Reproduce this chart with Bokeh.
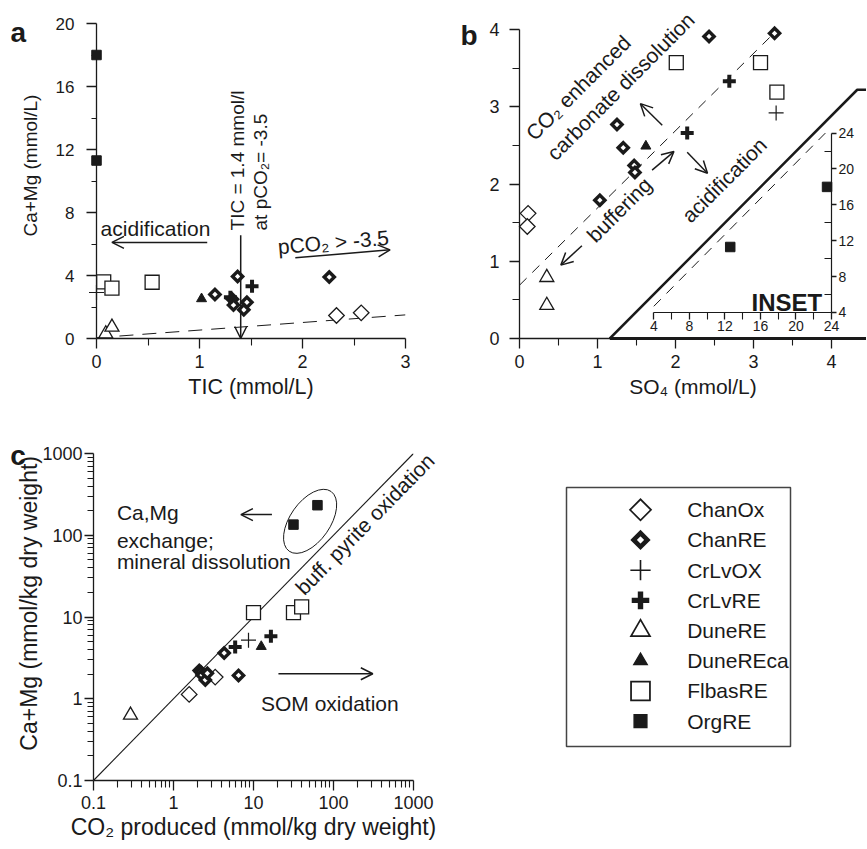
from math import pi
from bokeh.plotting import figure
from bokeh.models import (Range1d, FixedTicker, LinearAxis, Arrow, OpenHead,
                          CustomJSTickFormatter)
from bokeh.core.properties import value
from bokeh.layouts import column, row
from bokeh.embed import file_html
from bokeh.resources import INLINE

FONT = "Liberation Sans"
INK = "#1a1a1a"

series_names = ["ChanOx", "ChanRE", "CrLvOX", "CrLvRE", "DuneRE", "DuneREca", "FlbasRE", "OrgRE"]

# ---------------- panel a : TIC vs Ca+Mg (mmol/L)
a_group = ["ChanOx", "ChanOx",
           "ChanRE", "ChanRE", "ChanRE", "ChanRE", "ChanRE", "ChanRE", "ChanRE",
           "CrLvOX", "CrLvRE", "CrLvRE", "DuneRE", "DuneRE", "DuneREca",
           "FlbasRE", "FlbasRE", "FlbasRE", "OrgRE", "OrgRE"]
a_tic = [2.33, 2.57, 1.37, 2.26, 1.15, 1.32, 1.46, 1.33, 1.43,
         0.00, 1.51, 1.30, 0.09, 0.15, 1.02, 0.07, 0.15, 0.54, 0.00, 0.00]
a_camg = [1.46, 1.63, 3.94, 3.90, 2.80, 2.50, 2.30, 2.12, 1.82,
          2.92, 3.32, 2.62, 0.30, 0.72, 2.52, 3.60, 3.20, 3.57, 18.0, 11.3]
a_eq_tic = [0.0, 3.0]          # dashed equilibrium line (pCO2 = -3.5)
a_eq_camg = [0.05, 1.50]
a_xticks = [0, 1, 2, 3]
a_yticks = [0, 4, 8, 12, 16, 20]

# ---------------- panel b : SO4 vs Ca+Mg (mmol/L)
b_group = ["ChanOx", "ChanOx",
           "ChanRE", "ChanRE", "ChanRE", "ChanRE", "ChanRE", "ChanRE", "ChanRE",
           "CrLvOX", "CrLvRE", "CrLvRE", "DuneRE", "DuneRE", "DuneREca",
           "FlbasRE", "FlbasRE", "FlbasRE"]
b_so4 = [0.11, 0.10, 3.27, 2.43, 1.25, 1.33, 1.47, 1.48, 1.03,
         3.29, 2.69, 2.15, 0.35, 0.35, 1.62, 3.09, 3.30, 2.01]
b_camg = [1.62, 1.45, 3.95, 3.91, 2.77, 2.47, 2.24, 2.15, 1.79,
          2.92, 3.33, 2.66, 0.79, 0.43, 2.49, 3.57, 3.19, 3.57]
b_buffer_offset = 0.69        # buffering line: Ca+Mg = SO4 + offset
b_xticks = [0, 1, 2, 3, 4]
b_yticks = [0, 1, 2, 3, 4]
inset_group = ["OrgRE", "OrgRE"]
inset_so4 = [12.6, 23.5]
inset_camg = [11.3, 18.0]
inset_ticks = [4, 8, 12, 16, 20, 24]

# ---------------- panel c : CO2 produced vs Ca+Mg (mmol/kg dry weight)
c_group = ["ChanOx", "ChanOx",
           "ChanRE", "ChanRE", "ChanRE", "ChanRE", "ChanRE", "ChanRE", "ChanRE",
           "CrLvOX", "CrLvRE", "CrLvRE", "DuneRE", "DuneREca",
           "FlbasRE", "FlbasRE", "FlbasRE", "OrgRE", "OrgRE"]
c_co2 = [1.57, 3.32, 2.10, 2.20, 2.28, 2.50, 2.65, 4.30, 6.50,
         8.66, 5.90, 16.5, 0.29, 12.5, 10.0, 31.6, 40.0, 31.6, 63.0]
c_camg = [1.13, 1.84, 2.22, 2.12, 1.95, 1.70, 2.05, 3.62, 1.93,
          5.20, 4.30, 5.80, 0.63, 4.35, 11.3, 11.3, 13.3, 135.0, 233.0]
c_one_to_one = [0.1, 1000.0]
c_major = [0.1, 1, 10, 100, 1000]

# ---------------- marker styles
STYLE = {
    "ChanOx":   dict(marker="square", angle=pi / 4, size=11.0, lw=1.3, fill="white"),
    "ChanRE":   dict(marker="square", angle=pi / 4, size=7.2, lw=3.4, fill="white"),
    "CrLvOX":   dict(marker="cross", angle=0, size=15.0, lw=1.2, fill=None),
    "CrLvRE":   dict(marker="cross", angle=0, size=13.0, lw=4.0, fill=None),
    "DuneRE":   dict(marker="triangle", angle=0, size=14.0, lw=1.3, fill="white"),
    "DuneREca": dict(marker="triangle", angle=0, size=10.0, lw=1.0, fill=INK),
    "FlbasRE":  dict(marker="square", angle=0, size=14.0, lw=1.3, fill="white"),
    "OrgRE":    dict(marker="square", angle=0, size=9.5, lw=1.0, fill=INK),
}


def draw_points(p, groups, xs, ys, scale=1.0, **kw):
    for name in series_names:
        idx = [i for i, g in enumerate(groups) if g == name]
        if not idx:
            continue
        st = STYLE[name]
        r = p.scatter([xs[i] for i in idx], [ys[i] for i in idx], marker=st["marker"],
                      size=st["size"] * scale, angle=st["angle"], line_color=INK,
                      line_width=st["lw"] * scale, fill_color=st["fill"], line_join="miter", **kw)
        r.level = "overlay"


def make_fig(width, height, left, right, top, bottom, xr, yr, **kw):
    p = figure(width=width, height=height, x_range=xr, y_range=yr, output_backend="svg",
               toolbar_location=None, min_border_left=left, min_border_right=right,
               min_border_top=top, min_border_bottom=bottom, **kw)
    p.frame_align = False
    p.grid.visible = False
    p.outline_line_color = None
    p.background_fill_color = "white"
    p.border_fill_color = "white"
    return p


def style_axis(ax, label_size, title_size, tick_out=10, minor_out=6, standoff=6, title_standoff=5):
    ax.axis_line_color = INK
    ax.axis_line_width = 1.3
    ax.major_tick_line_color = INK
    ax.major_tick_line_width = 1.3
    ax.minor_tick_line_color = INK
    ax.minor_tick_line_width = 1.1
    ax.major_tick_in = 0
    ax.major_tick_out = tick_out
    ax.minor_tick_in = 0
    ax.minor_tick_out = minor_out
    ax.major_label_text_font = FONT
    ax.major_label_text_font_size = f"{label_size}px"
    ax.major_label_text_color = INK
    ax.major_label_standoff = standoff
    ax.axis_label_text_font = FONT
    ax.axis_label_text_font_size = f"{title_size}px"
    ax.axis_label_text_font_style = "normal"
    ax.axis_label_text_color = INK
    ax.axis_label_standoff = title_standoff


def label(p, x, y, text, size=21, angle=0.0, align="left", baseline="alphabetic", bold=False, **kw):
    xs = x if isinstance(x, list) else [x]
    ys = y if isinstance(y, list) else [y]
    ts = text if isinstance(text, list) else [text]
    r = p.text(x=xs, y=ys, text=ts, angle=angle, text_align=align, text_baseline=baseline,
               text_font=value(FONT), text_font_size=value(f"{size}px"), text_color=INK,
               text_font_style="bold" if bold else "normal", **kw)
    r.level = "overlay"


def arrow(p, x0, y0, x1, y1, **kw):
    p.add_layout(Arrow(end=OpenHead(size=12, line_width=1.5, line_color=INK),
                       x_start=x0, y_start=y0, x_end=x1, y_end=y1,
                       line_width=1.5, line_color=INK, level="overlay", **kw))


# ======================= panel a
pa = make_fig(448, 405, 96, 43, 23, 67, Range1d(0, 3), Range1d(0, 20))
pa.xaxis.ticker = FixedTicker(ticks=a_xticks, minor_ticks=[t + 0.5 for t in a_xticks[:-1]])
pa.yaxis.ticker = FixedTicker(ticks=a_yticks, minor_ticks=[t + 2 for t in a_yticks[:-1]])
pa.xaxis.axis_label = "TIC (mmol/L)"
style_axis(pa.xaxis[0], 18, 21.5, tick_out=10, minor_out=7, standoff=6, title_standoff=4)
style_axis(pa.yaxis[0], 17, 19, tick_out=10, minor_out=5, standoff=12, title_standoff=10)
# y title (placed where the original sits, slightly above the axis centre)
label(pa, -0.641, 10.98, "Ca+Mg (mmol/L)", size=19, angle=pi / 2, align="center", baseline="middle")
pa.line(a_eq_tic, a_eq_camg, line_color=INK, line_width=1, line_dash="14 9")
draw_points(pa, a_group, a_tic, a_camg)
label(pa, 0.04, 7.0, "acidification")
arrow(pa, 1.075, 6.1, 0.15, 6.1)
label(pa, 1.37, 6.86, "TIC = 1.4 mmol/l", size=19, angle=pi / 2)
label(pa, 1.595, 6.86, "at pCO\u2082= -3.5", size=19, angle=pi / 2)
arrow(pa, 1.4, 6.55, 1.4, 0.0)
label(pa, 2.30, 6.12, "pCO\u2082 > -3.5", angle=0.085, align="center")
arrow(pa, 1.93, 5.12, 2.85, 5.63)
label(pa, -0.835, 19.45, "a", size=28, bold=True)

# ======================= panel b
B_XMAX = 347 / 78.0
pb = make_fig(418, 405, 71, 0, 29, 67, Range1d(0, B_XMAX), Range1d(0, 4))
main_xb = pb.xaxis[0]
main_yb = pb.yaxis[0]
main_xb.ticker = FixedTicker(ticks=b_xticks, minor_ticks=[t + 0.5 for t in b_xticks[:-1]])
main_yb.ticker = FixedTicker(ticks=b_yticks, minor_ticks=[t + 0.5 for t in b_yticks[:-1]])
main_xb.bounds = (0, 4)
main_xb.axis_label = "SO\u2084 (mmol/L)"
style_axis(main_xb, 18, 21, tick_out=10, minor_out=7, standoff=6, title_standoff=4)
style_axis(main_yb, 18, 21, tick_out=10, minor_out=7, standoff=10, title_standoff=4)

# inset placement (in panel-b units): inset 4..24 spans these b-coordinates
ins_bx = (1.722, 4.0)
ins_by = (0.337, 2.659)


def lin(a0, a1, b0, b1, v):
    return b0 + (v - a0) * (b1 - b0) / (a1 - a0)


pb.extra_x_ranges = {"ix": Range1d(lin(ins_bx[0], ins_bx[1], 4, 24, 0.0),
                                   lin(ins_bx[0], ins_bx[1], 4, 24, B_XMAX))}
pb.extra_y_ranges = {"iy": Range1d(lin(ins_by[0], ins_by[1], 4, 24, 0.0),
                                   lin(ins_by[0], ins_by[1], 4, 24, 4.0))}

bx = [0.0, 4.0 - b_buffer_offset + 0.7]
pb.line(bx, [v + b_buffer_offset for v in bx], line_color=INK, line_width=1, line_dash="10 8")

# inset frame
pb.patch([1.158, 4.33, 4.7, 4.7], [0, 3.22, 3.22, 0], fill_color="white",
         line_color=INK, line_width=2.5)
rb = pb.line([1.158, 4.7], [0, 0], line_color=INK, line_width=2.8)
rb.level = "overlay"

ax_ix = LinearAxis(x_range_name="ix", y_range_name="iy", fixed_location=4, bounds=(4, 24),
                   ticker=FixedTicker(ticks=inset_ticks, minor_ticks=[t + 2 for t in inset_ticks[:-1]]))
ax_iy = LinearAxis(x_range_name="ix", y_range_name="iy", fixed_location=24, bounds=(4, 24),
                   ticker=FixedTicker(ticks=inset_ticks, minor_ticks=[t + 2 for t in inset_ticks[:-1]]))
for ax in (ax_ix, ax_iy):
    style_axis(ax, 14, 14, tick_out=7, minor_out=7, standoff=2, title_standoff=0)
    ax.axis_line_width = 1.2
ax_iy.minor_tick_out = 0
ax_iy.minor_tick_in = 7
ax_iy.major_tick_out = 5
pb.add_layout(ax_ix, "below")
pb.add_layout(ax_iy, "right")

ix_line = [4.0, 24.0 - b_buffer_offset]
pb.line(ix_line, [v + b_buffer_offset for v in ix_line], x_range_name="ix", y_range_name="iy",
        line_color=INK, line_width=1, line_dash="10 8")
draw_points(pb, inset_group, inset_so4, inset_camg, x_range_name="ix", y_range_name="iy")
draw_points(pb, b_group, b_so4, b_camg)

label(pb, 0.128, 2.617, "CO\u2082 enhanced", angle=pi / 4)
label(pb, 0.397, 2.357, "carbonate dissolution", angle=pi / 4)
label(pb, 0.91, 1.295, "buffering", angle=pi / 4)
label(pb, 2.128, 1.55, "acidification", angle=pi / 4)
arrow(pb, 1.83, 2.76, 1.55, 3.04)
arrow(pb, 1.70, 2.18, 1.98, 2.42)
arrow(pb, 2.15, 2.41, 2.41, 2.14)
arrow(pb, 0.80, 1.20, 0.53, 0.95)
label(pb, 3.88, 0.47, "INSET", size=24, align="right", bold=True)
label(pb, -0.756, 3.92, "b", size=28, bold=True)

# ======================= panel c
pc = make_fig(450, 443, 93, 37, 48, 68, Range1d(0.1, 1000), Range1d(0.1, 1000),
              x_axis_type="log", y_axis_type="log")
c_minor = [m * t for t in c_major[:-1] for m in range(2, 10)]
for ax in (pc.xaxis[0], pc.yaxis[0]):
    ax.ticker = FixedTicker(ticks=c_major, minor_ticks=c_minor)
    ax.formatter = CustomJSTickFormatter(code="return tick.toString();")
pc.xaxis.axis_label = "CO\u2082 produced (mmol/kg dry weight)"
style_axis(pc.xaxis[0], 18, 23, tick_out=10, minor_out=7, standoff=5, title_standoff=2)
style_axis(pc.yaxis[0], 18, 23, tick_out=9, minor_out=6, standoff=2, title_standoff=2)
label(pc, 0.0154, 14.7, "Ca+Mg (mmol/kg dry weight)", size=23, angle=pi / 2, align="center",
      baseline="middle")
pc.line(c_one_to_one, c_one_to_one, line_color=INK, line_width=1.1)
pc.ellipse(x=[51], y=[148], width=73, height=40, angle=0.96, width_units="screen",
           height_units="screen", fill_color=None, line_color=INK, line_width=1)
draw_points(pc, c_group, c_co2, c_camg)
label(pc, 0.196, 187.5, "Ca,Mg")
label(pc, 0.196, 86.9, "exchange;")
label(pc, 0.196, 47.1, "mineral dissolution")
arrow(pc, 17.0, 179, 6.96, 179)
label(pc, 12.4, 0.869, "SOM oxidation")
arrow(pc, 20.5, 2.02, 310, 2.02)
label(pc, 37.3, 20.8, "buff. pyrite oxidation", angle=0.796)
label(pc, 0.0091, 946, "c", size=28, bold=True)

# ======================= legend box
n = len(series_names)
pl = make_fig(416, 443, 116, 76, 82, 102, Range1d(0, 224), Range1d(7.838, -0.738),
              x_axis_location=None, y_axis_location=None)
pl.outline_line_color = "#444444"
pl.outline_line_width = 1.5
draw_points(pl, series_names, [74] * n, list(range(n)), scale=1.35)
label(pl, [120.7] * n, list(range(n)), list(series_names), baseline="middle")

layout = column(row(pa, pb), row(pc, pl))
open("out.html", "w").write(file_html(layout, INLINE))
